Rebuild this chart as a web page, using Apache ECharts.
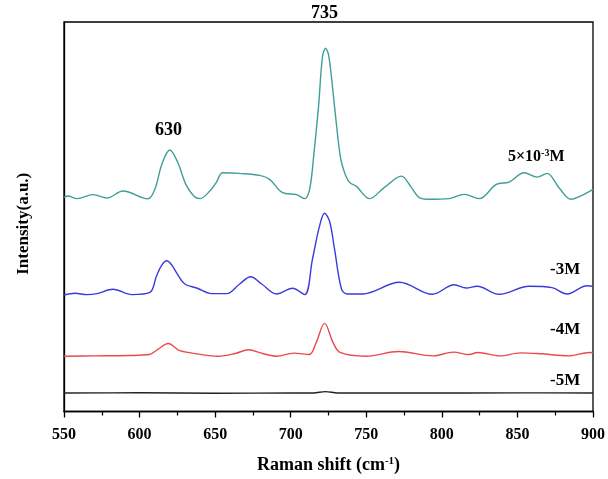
<!DOCTYPE html>
<html>
<head>
<meta charset="utf-8">
<script src="https://cdn.jsdelivr.net/npm/echarts@6/dist/echarts.min.js"></script>
<style>
html,body{margin:0;padding:0;background:#fff;}
#c{width:608px;height:479px;}
</style>
</head>
<body>
<div id="c"></div>
<script>
// Raman shift (cm^-1) and intensity (a.u., offset-stacked) per concentration
const xTicks = [550, 600, 650, 700, 750, 800, 850, 900];

const x5e3 = [550, 552.6, 558.6, 569.2, 578.5, 589.0, 605.5, 610.1, 614.7, 620.0, 625.3, 630.6, 636.0, 639.9, 646.5, 650.8, 655.0, 666.2, 679.5, 686.1, 694.6, 703.9, 709.2, 712.5, 715.1, 718.4, 721.0, 723.1, 725.3, 729.0, 732.9, 735.6, 738.9, 743.5, 752.1, 762.0, 773.2, 779.8, 785.1, 791.7, 804.9, 814.8, 824.7, 836.0, 844.5, 854.4, 863.0, 869.6, 877.5, 885.5, 892.7, 900];
const y5e3 = [215, 216.3, 213.7, 217.7, 214.3, 221.3, 213.5, 223, 248, 262.5, 250, 228, 216, 213.7, 221.3, 230, 239.7, 239, 237, 233, 219.7, 217.7, 213.7, 223, 255, 306, 356, 364.7, 356, 306, 255, 240, 230, 226, 213.7, 225, 236.3, 225, 214.7, 213, 213.7, 218, 213.7, 228, 230.3, 239.7, 235.3, 239, 224.7, 213, 217, 223];

const x1e3 = [550, 557.3, 565.2, 571.8, 582.4, 594.9, 606.8, 611.2, 614.5, 618.0, 621.3, 624.6, 629.9, 637.8, 647.7, 657.6, 666.2, 673.5, 680.8, 690.7, 701.2, 709.2, 714.4, 719.1, 722.4, 725.7, 729.0, 733.6, 737.5, 747.5, 771.9, 793.7, 808.2, 816.1, 823.4, 837.9, 857.7, 872.9, 882.8, 896.0, 900];
const y1e3 = [117, 118.7, 117.3, 118.3, 122.7, 117.3, 119.5, 136, 146.5, 151.3, 147, 139, 128, 124, 118.3, 118.3, 128, 135.3, 128, 118, 123.7, 117.3, 153, 186.3, 199, 191, 163, 123, 118, 118, 129.7, 117.7, 127.3, 124, 125.7, 117.7, 125.7, 124.3, 118, 126.3, 125.7];

const x1e4 = [550, 570.1, 592.9, 606.5, 612.1, 619.0, 625.8, 633.8, 652.0, 663.3, 672.0, 681.5, 690.7, 702.0, 712.3, 716.7, 722.4, 728.2, 732.7, 749.8, 771.4, 794.1, 807.7, 818.0, 823.7, 838.4, 852.1, 865.7, 883.9, 897.6, 900];
const y1e4 = [55.5, 55.8, 56.2, 57.2, 62.4, 68.2, 61.7, 58.9, 55.5, 58.2, 62, 58.2, 55.5, 58.6, 57.2, 68.6, 88.5, 68.6, 59.3, 55.5, 60.3, 55.8, 59.6, 57.2, 59.3, 55.8, 58.9, 57.9, 55.8, 59.3, 59];

const x1e5 = [550, 600, 650, 700, 715, 723, 731, 780, 850, 900];
const y1e5 = [18.5, 18.8, 18.3, 18.6, 18.6, 20, 18.6, 18.5, 18.7, 18.6];

const seriesNames = ['5×10⁻³M', '-3M', '-4M', '-5M'];
const seriesColors = ['#3f9f98', '#3b3bdc', '#ea4a4c', '#222222'];

function pairs(xs, ys) { return xs.map((v, i) => [v, ys[i]]); }
const seriesData = [pairs(x5e3, y5e3), pairs(x1e3, y1e3), pairs(x1e4, y1e4), pairs(x1e5, y1e5)];

const FONT = '"Liberation Serif", "Times New Roman", serif';
const chart = echarts.init(document.getElementById('c'), null, {renderer: 'canvas'});

chart.setOption({
  animation: false,
  backgroundColor: '#ffffff',
  grid: {left: 64, right: 14, top: 22, bottom: 66, show: true, borderColor: '#000', borderWidth: 1.3, backgroundColor: 'transparent'},
  xAxis: {
    type: 'value', min: 550, max: 900, interval: 50,
    name: '{a|Raman shift (cm}{s|-1}{a|)}',
    nameLocation: 'middle', nameGap: 44,
    nameTextStyle: {
      rich: {
        a: {fontFamily: FONT, fontWeight: 'bold', fontSize: 18, color: '#000'},
        s: {fontFamily: FONT, fontWeight: 'bold', fontSize: 11, color: '#000', verticalAlign: 'top', padding: [0, 0, 8, 0]}
      }
    },
    axisLine: {show: true, onZero: false, lineStyle: {color: '#000', width: 1.3}},
    axisTick: {show: true, inside: false, length: 6, lineStyle: {color: '#000', width: 1.3}},
    minorTick: {show: true, splitNumber: 2, length: 4, lineStyle: {color: '#000', width: 1.2}},
    axisLabel: {fontFamily: FONT, fontWeight: 'bold', fontSize: 16, color: '#000', margin: 15,
      formatter: v => xTicks.indexOf(v) >= 0 ? String(v) : ''},
    splitLine: {show: false}
  },
  yAxis: {
    type: 'value', min: 0, max: 391,
    name: 'Intensity(a.u.)', nameLocation: 'middle', nameGap: 32,
    nameTextStyle: {fontFamily: FONT, fontWeight: 'bold', fontSize: 17, color: '#000', padding: [0, 14, 0, 0]},
    axisLine: {show: true, lineStyle: {color: '#000', width: 1.3}},
    axisTick: {show: false}, axisLabel: {show: false}, splitLine: {show: false}
  },
  series: seriesData.map((d, i) => ({
    name: seriesNames[i], type: 'line', data: d, smooth: 0.35, symbol: 'none',
    lineStyle: {color: seriesColors[i], width: 1.4}, z: 3
  })),
  graphic: [
    {type: 'text', left: 311, top: 4, style: {text: '735', font: 'bold 18px ' + FONT, fill: '#000'}},
    {type: 'text', left: 155, top: 121, style: {text: '630', font: 'bold 18px ' + FONT, fill: '#000'}},
    {type: 'text', left: 508, top: 148, style: {text: '{a|5×10}{s|-3}{a|M}', rich: {
      a: {font: 'bold 16px ' + FONT, fill: '#000'},
      s: {font: 'bold 10px ' + FONT, fill: '#000', verticalAlign: 'top', padding: [0, 0, 8, 0]}
    }}},
    {type: 'text', left: 550, top: 261, style: {text: '-3M', font: 'bold 17px ' + FONT, fill: '#000'}},
    {type: 'text', left: 550, top: 321, style: {text: '-4M', font: 'bold 17px ' + FONT, fill: '#000'}},
    {type: 'text', left: 550, top: 372, style: {text: '-5M', font: 'bold 17px ' + FONT, fill: '#000'}}
  ]
});
</script>
</body>
</html>
